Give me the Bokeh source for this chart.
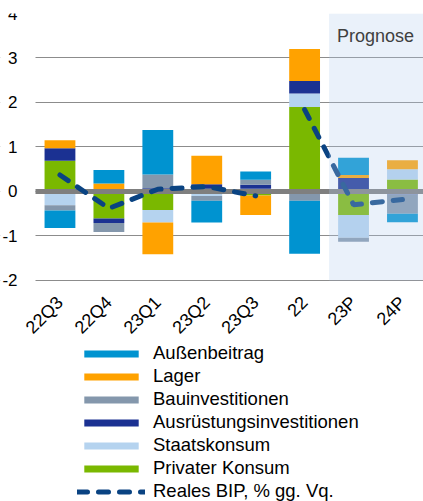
import numpy as np
from bokeh.plotting import figure
from bokeh.models import (Range1d, FixedTicker, BoxAnnotation, Label, Legend, LegendItem,
                          LinearAxis)
from bokeh.embed import file_html
from bokeh.resources import INLINE

categories = ["22Q3", "22Q4", "23Q1", "23Q2", "23Q3", "22", "23P", "24P"]

# contributions to real GDP growth, percentage points
privater_konsum = [0.69, -0.61, -0.42, 0.06, -0.09, 1.90, -0.53, 0.27]
staatskonsum = [-0.31, 0.00, -0.28, -0.10, 0.06, 0.30, -0.51, 0.23]
ausruestung = [0.28, -0.10, 0.07, 0.10, 0.09, 0.28, 0.30, -0.07]
bau = [-0.12, -0.20, 0.31, -0.11, 0.11, -0.21, -0.09, -0.43]
lager = [0.18, 0.18, -0.71, 0.64, -0.44, 0.72, 0.07, 0.20]
aussenbeitrag = [-0.39, 0.30, 1.00, -0.49, 0.19, -1.19, 0.39, -0.19]

# real GDP, % change over previous period (quarters, then years)
bip_quartal = [0.37, -0.38, 0.05, 0.11, -0.10]
bip_jahr = [1.84, -0.30, -0.18]

y_ticks = [-2, -1, 0, 1, 2, 3, 4]
y_tick_labels = ["-2", "-1", "0", "1", "2", "3", "4"]

stack_order = [
    ("Privater Konsum", privater_konsum, "#7AB800"),
    ("Staatskonsum", staatskonsum, "#B5D3EF"),
    ("Ausrüstungsinvestitionen", ausruestung, "#1B3192"),
    ("Bauinvestitionen", bau, "#8497AC"),
    ("Lager", lager, "#FFA200"),
    ("Außenbeitrag", aussenbeitrag, "#0093D0"),
]
legend_order = ["Außenbeitrag", "Lager", "Bauinvestitionen",
                "Ausrüstungsinvestitionen", "Staatskonsum", "Privater Konsum"]

FONT = "Liberation Sans"
LINE_COLOR = "#0A4382"
x = np.arange(len(categories))

# layout of the drawing area (screen px -> data range)
X_LEFT = -0.5            # left edge of the value area (category boundary)
X_END = 7.43             # right edge, where the picture is cut
PX_PER_CAT = 388 / (X_END - X_LEFT)
X_START = X_LEFT - 35 / PX_PER_CAT
Y_BOTTOM = -6.97         # space below -2 holds the labels and legend

p = figure(width=423, height=501,
           x_range=Range1d(X_START, X_END), y_range=Range1d(Y_BOTTOM, 4),
           output_backend="svg", toolbar_location=None,
           min_border_left=0, min_border_right=0,
           min_border_top=13, min_border_bottom=0)
p.outline_line_color = None

# grid, masked left of the value area
p.xgrid.visible = False
p.ygrid.ticker = FixedTicker(ticks=y_ticks)
p.ygrid.grid_line_color = "#8C8C8C"
p.ygrid.grid_line_width = 1
p.add_layout(BoxAnnotation(right=X_LEFT, fill_color="white", fill_alpha=1,
                           line_color=None, level="underlay"))

pos_base = np.zeros(len(categories))
neg_base = np.zeros(len(categories))
renderers = {}
for name, vals, col in stack_order:
    v = np.array(vals, dtype=float)
    pos = np.where(v > 0, v, 0.0)
    neg = np.where(v < 0, v, 0.0)
    bottom = np.where(v >= 0, pos_base, neg_base + neg)
    top = np.where(v >= 0, pos_base + pos, neg_base)
    renderers[name] = p.vbar(x=x, bottom=bottom, top=top, width=0.63,
                             fill_color=col, line_color=None)
    pos_base = pos_base + pos
    neg_base = neg_base + neg

# zero line as a bounded axis line
zero_axis = LinearAxis(fixed_location=0, bounds=(X_LEFT, X_END),
                       ticker=FixedTicker(ticks=[]),
                       axis_line_color="#7F7F7F", axis_line_width=5,
                       major_tick_line_color=None, minor_tick_line_color=None,
                       major_label_text_alpha=0)
p.add_layout(zero_axis, "below")

line_kw = dict(line_color=LINE_COLOR, line_width=5, line_dash="10 11", line_cap="round")
lr = p.line(x=x[:len(bip_quartal)], y=bip_quartal, level="annotation", **line_kw)
p.line(x=x[len(bip_quartal):], y=bip_jahr, level="annotation", **line_kw)

p.add_layout(BoxAnnotation(left=5.5, bottom=min(y_ticks), top=max(y_ticks),
                           fill_color="#B4CDED", fill_alpha=0.28, line_color=None,
                           level="overlay"))
p.add_layout(Label(x=6.45, y=3.5, text="Prognose", text_align="center", text_baseline="middle",
                   text_font=FONT, text_font_size="18px", text_color="#404040",
                   level="overlay"))

yaxis = p.yaxis[0]
yaxis.fixed_location = X_LEFT
yaxis.ticker = FixedTicker(ticks=y_ticks)
yaxis.major_label_overrides = {t: s for t, s in zip(y_ticks, y_tick_labels)}
yaxis.axis_line_color = None
yaxis.major_tick_line_color = None
yaxis.minor_tick_line_color = None
yaxis.major_tick_out = 0
yaxis.major_label_standoff = 18
yaxis.major_label_text_font = FONT
yaxis.major_label_text_font_size = "17px"
yaxis.major_label_text_color = "#000000"

xaxis = p.xaxis[0]
xaxis.fixed_location = min(y_ticks)
xaxis.ticker = FixedTicker(ticks=list(x))
xaxis.major_label_overrides = {int(i): c for i, c in zip(x, categories)}
xaxis.axis_line_color = None
xaxis.major_tick_line_color = None
xaxis.minor_tick_line_color = None
xaxis.major_tick_out = 0
xaxis.major_label_orientation = np.pi / 4
xaxis.major_label_standoff = 19
xaxis.major_label_text_font = FONT
xaxis.major_label_text_font_size = "18px"
xaxis.major_label_text_color = "#000000"

items = [LegendItem(label=n, renderers=[renderers[n]]) for n in legend_order]
items.append(LegendItem(label="Reales BIP, % gg. Vq.", renderers=[lr]))
legend = Legend(items=items, location=(77, -1), orientation="vertical",
                glyph_width=68, glyph_height=9, label_standoff=8,
                label_height=21, spacing=1, padding=0, margin=0,
                label_text_font=FONT, label_text_font_size="18.5px",
                label_text_color="#000000",
                border_line_color=None, background_fill_alpha=0)
p.add_layout(legend)

open("out.html", "w").write(file_html(p, INLINE))
